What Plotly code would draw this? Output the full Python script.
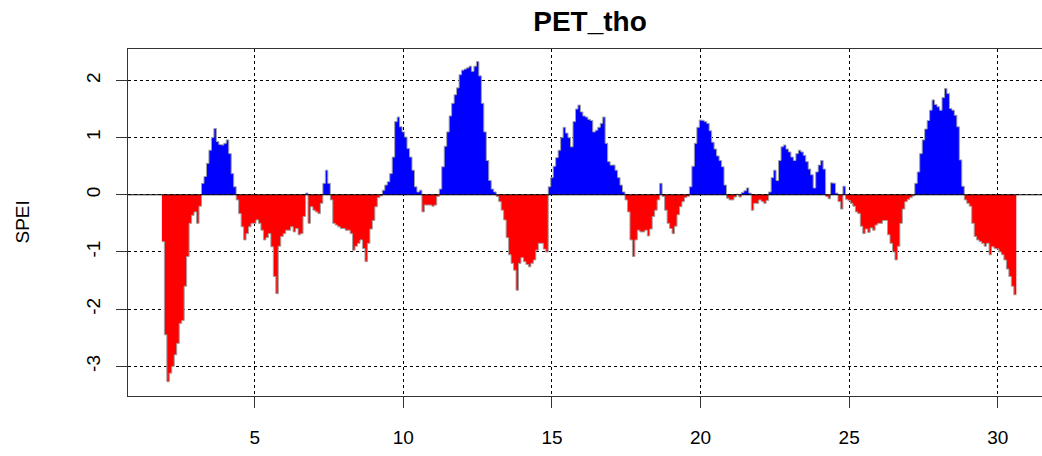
import plotly.graph_objects as go

# SPEI series (monthly), first value at December of year 1
start_time = 1 + 11 / 12
freq = 12
spei = [
    -0.82, -2.45, -3.27, -3.12, -3.0, -2.8, -2.6, -2.25, -2.2, -1.6,
    -1.08, -0.5, -0.36, -0.3, -0.5, -0.2, 0.2, 0.32, 0.55, 0.78,
    1.0, 1.16, 0.93, 0.88, 0.87, 0.9, 0.96, 0.72, 0.37, 0.14,
    -0.09, -0.33, -0.56, -0.79, -0.68, -0.56, -0.5, -0.5, -0.44, -0.5,
    -0.62, -0.79, -0.75, -0.68, -0.91, -1.43, -1.73, -0.9, -0.73, -0.68,
    -0.62, -0.62, -0.56, -0.65, -0.59, -0.7, -0.68, -0.38, 0.03, -0.5,
    -0.21, -0.27, -0.3, -0.33, -0.15, 0.2, 0.43, 0.2, -0.09, -0.5,
    -0.53, -0.56, -0.59, -0.59, -0.62, -0.62, -0.68, -0.97, -0.9, -0.85,
    -0.79, -0.94, -1.17, -0.85, -0.6, -0.45, -0.21, -0.05, -0.02, 0.08,
    0.17, 0.23, 0.37, 0.66, 1.28, 1.36, 1.19, 1.1, 1.01, 0.81,
    0.66, 0.43, 0.14, 0.05, 0.08, -0.3, -0.18, -0.18, -0.18, -0.2,
    -0.18, -0.03, 0.1, 0.49, 0.85, 1.1, 1.38, 1.6, 1.75, 1.87,
    2.1, 2.18, 2.2, 2.22, 2.25, 2.16, 2.25, 2.33, 2.08, 1.6,
    1.1, 0.6, 0.25, 0.1, 0.05, -0.03, -0.12, -0.27, -0.44, -0.75,
    -1.05, -1.2, -1.32, -1.67, -1.2, -1.1, -1.17, -1.22, -1.26, -1.2,
    -1.14, -0.97, -0.85, -0.85, -0.95, -1.0, 0.14, 0.3, 0.5, 0.65,
    0.78, 1.0, 1.18, 1.08, 1.0, 0.84, 1.28, 1.5, 1.57, 1.45,
    1.38, 1.36, 1.32, 1.3, 1.1, 1.13, 1.18, 1.25, 1.36, 0.9,
    0.58, 0.52, 0.52, 0.43, 0.3, 0.17, 0.05, -0.09, -0.3, -0.79,
    -1.08, -0.79, -0.62, -0.65, -0.65, -0.62, -0.72, -0.6, -0.38, -0.27,
    -0.09, 0.2, -0.03, -0.27, -0.5, -0.59, -0.68, -0.55, -0.35, -0.21,
    -0.12, -0.05, -0.03, 0.14, 0.5, 0.9, 1.18, 1.31, 1.3, 1.28,
    1.25, 1.12, 0.92, 0.8, 0.68, 0.6, 0.49, 0.17, -0.06, -0.09,
    -0.09, -0.04, 0.01, -0.04, 0.04, 0.07, 0.12, 0.03, -0.27, -0.15,
    -0.15, -0.09, -0.12, -0.15, -0.1, 0.05, 0.3, 0.43, 0.25, 0.6,
    0.84, 0.87, 0.8, 0.75, 0.66, 0.6, 0.72, 0.78, 0.75, 0.69,
    0.58, 0.45, 0.35, 0.12, 0.4, 0.52, 0.6, 0.45, -0.03, -0.07,
    0.21, 0.2, 0.03, -0.12, -0.25, 0.15, -0.08, -0.1, -0.15, -0.2,
    -0.3, -0.33, -0.55, -0.68, -0.6, -0.66, -0.58, -0.62, -0.53, -0.5,
    -0.5, -0.45, -0.45, -0.7, -0.85, -1.0, -1.14, -0.9, -0.5, -0.25,
    -0.12, -0.08, -0.05, -0.02, 0.2, 0.4, 0.72, 0.96, 1.15, 1.3,
    1.48, 1.66, 1.58, 1.54, 1.48, 1.7, 1.86, 1.77, 1.51, 1.48,
    1.39, 1.19, 0.61, 0.15, -0.09, -0.15, -0.2, -0.5, -0.73, -0.79,
    -0.82, -0.85, -0.9, -0.85, -1.05, -0.91, -0.94, -0.95, -1.0, -1.05,
    -1.14, -1.3, -1.43, -1.6, -1.75,
]

x_ticks = [5, 10, 15, 20, 25, 30]
x_tick_labels = ["5", "10", "15", "20", "25", "30"]
y_ticks = [-3, -2, -1, 0, 1, 2]
y_tick_labels = ["-3", "-2", "-1", "0", "1", "2"]
title_text = "PET_tho"
y_title = "SPEI"

# build step outlines (one step per month)
times = [start_time + k / freq for k in range(len(spei))]
half = 0.5 / freq
sx, sy, spos, sneg = [], [], [], []
for t, v in zip(times, spei):
    for xx in (t - half, t + half):
        sx.append(xx)
        sy.append(v)
        spos.append(max(v, 0.0))
        sneg.append(min(v, 0.0))

fig = go.Figure()
fig.add_trace(go.Scatter(x=sx, y=spos, mode="lines", line=dict(width=0, color="#0000FF"),
                         fill="tozeroy", fillcolor="#0000FF", hoverinfo="skip", showlegend=False))
fig.add_trace(go.Scatter(x=sx, y=sneg, mode="lines", line=dict(width=0, color="#FF0000"),
                         fill="tozeroy", fillcolor="#FF0000", hoverinfo="skip", showlegend=False))
fig.add_trace(go.Scatter(x=sx, y=sy, mode="lines", line=dict(width=1, color="#A0A0A0"),
                         hoverinfo="skip", showlegend=False))

font_family = "Liberation Sans, Arial, sans-serif"

W, H = 1042, 456
L, T, B = 128, 49, 60

fig.update_layout(
    width=W, height=H,
    margin=dict(l=L, r=0, t=T, b=B, autoexpand=False),
    paper_bgcolor="white", plot_bgcolor="white",
    font=dict(family=font_family, size=19, color="black"),
    title=dict(text="<b>" + title_text + "</b>", x=0.5055, xref="paper", xanchor="center",
               y=1 - 21 / H, yref="container", yanchor="middle", automargin=False,
               font=dict(size=28, family=font_family, color="black")),
    showlegend=False,
)
fig.update_xaxes(
    range=[0.735, 31.49], tickmode="array", tickvals=x_ticks, ticktext=x_tick_labels,
    showgrid=True, gridcolor="black", griddash="dot", gridwidth=1,
    showline=True, linecolor="#333333", linewidth=1, mirror=True,
    ticks="outside", ticklen=11, tickcolor="#333333", zeroline=False,
    ticklabelstandoff=13, automargin=False,
)
fig.update_yaxes(
    range=[-3.52, 2.55], tickmode="array", tickvals=y_ticks, ticktext=y_tick_labels,
    tickangle=-90,
    showgrid=True, gridcolor="black", griddash="dot", gridwidth=1,
    showline=True, linecolor="#333333", linewidth=1, mirror=False,
    ticks="outside", ticklen=11, tickcolor="#333333", zeroline=False,
    ticklabelstandoff=8, automargin=False,
)
fig.add_shape(type="line", xref="paper", x0=0, x1=1, yref="y", y0=0, y1=0,
              line=dict(color="black", width=1), layer="above")
fig.add_annotation(text=y_title, xref="paper", yref="paper", x=(22 - L) / (W - L), y=0.5,
                   textangle=-90, showarrow=False, font=dict(size=19, family=font_family),
                   xanchor="center", yanchor="middle")

fig.write_html("out.html", config={"displayModeBar": False},
               post_script="document.body.style.margin='0';")
